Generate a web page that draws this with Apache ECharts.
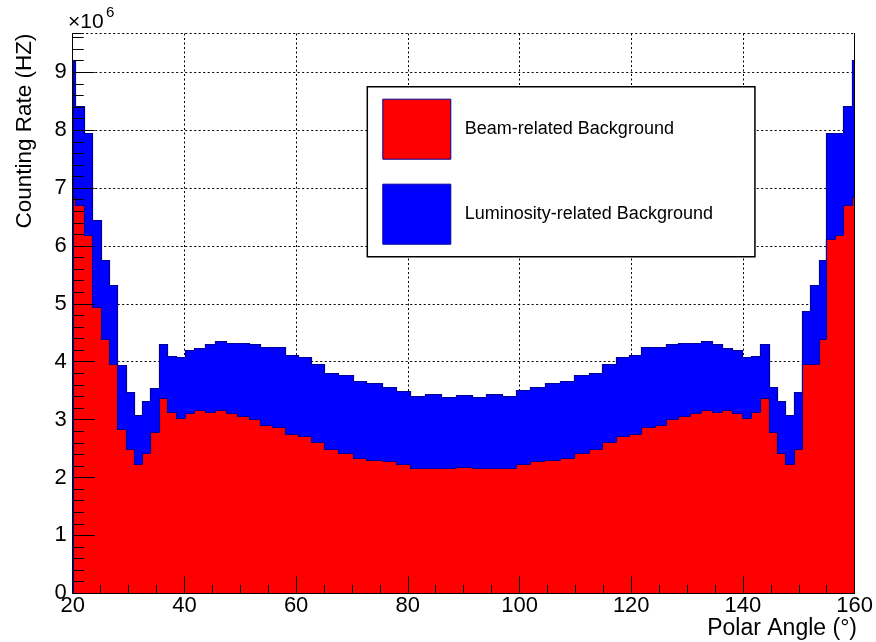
<!DOCTYPE html>
<html>
<head>
<meta charset="utf-8">
<script src="https://cdn.jsdelivr.net/npm/echarts@6/dist/echarts.min.js"></script>
<style>html,body{margin:0;padding:0;background:#fff}#c{width:876px;height:642px}</style>
</head>
<body>
<div id="c"></div>
<script>
// Bin edges in degrees (variable-width histogram bins)
const binEdges = [
  20, 20.41, 22.08, 23.5, 25.0, 26.5, 28.0, 29.48, 30.95, 32.43, 33.83, 35.42,
  36.92, 38.45, 40.05, 41.8, 43.6, 45.5, 47.5, 49.5, 51.6, 53.6, 55.65, 58.05,
  60.25, 62.65, 65.0, 67.55, 70.1, 72.55, 75.35, 77.95, 80.45, 83.1, 85.95, 88.55,
  91.45, 94.05, 96.85, 99.45, 101.95, 104.55, 107.3, 109.8, 112.35, 114.8, 117.3, 119.65,
  121.8, 124.25, 126.25, 128.35, 130.5, 132.5, 134.4, 136.25, 138.05, 139.9, 141.5, 143.1,
  144.65, 146.15, 147.6, 149.1, 150.5, 151.95, 153.55, 154.95, 156.45, 158.0, 159.58, 160
];
// Beam-related background counting rate (x10^6 Hz) per bin
const beamRate = [
  6.85, 6.70, 6.19, 4.95, 4.39, 3.96, 2.83, 2.49, 2.23, 2.43, 2.79, 3.38,
  3.13, 3.03, 3.12, 3.16, 3.13, 3.16, 3.11, 3.07, 3.01, 2.91, 2.88, 2.75,
  2.71, 2.62, 2.49, 2.43, 2.33, 2.31, 2.29, 2.23, 2.17, 2.17, 2.17, 2.19,
  2.17, 2.17, 2.17, 2.23, 2.29, 2.30, 2.33, 2.43, 2.49, 2.62, 2.71, 2.75,
  2.88, 2.91, 3.01, 3.07, 3.11, 3.16, 3.13, 3.16, 3.12, 3.03, 3.13, 3.38,
  2.79, 2.43, 2.23, 2.49, 3.96, 3.96, 4.39, 6.12, 6.19, 6.70, 6.85
];
// Luminosity-related background counting rate (x10^6 Hz) per bin (stacked on beam)
const lumiRate = [
  2.34, 1.72, 1.76, 1.49, 1.37, 1.37, 1.11, 0.99, 0.85, 0.90, 0.76, 0.93,
  0.97, 1.05, 1.08, 1.08, 1.17, 1.20, 1.22, 1.25, 1.30, 1.35, 1.38, 1.37,
  1.38, 1.34, 1.31, 1.34, 1.33, 1.32, 1.28, 1.27, 1.24, 1.27, 1.22, 1.24,
  1.22, 1.27, 1.24, 1.28, 1.28, 1.33, 1.33, 1.34, 1.31, 1.34, 1.38, 1.37,
  1.38, 1.35, 1.30, 1.26, 1.22, 1.20, 1.17, 1.08, 1.09, 1.05, 0.97, 0.93,
  0.77, 0.90, 0.85, 0.99, 0.91, 1.37, 1.36, 1.83, 1.76, 1.72, 2.36
];
const xTickLabels = [20, 40, 60, 80, 100, 120, 140, 160];
const yTickLabels = [0, 1, 2, 3, 4, 5, 6, 7, 8, 9];
const yAxisMax = 9.67;
const seriesNames = ['Beam-related Background', 'Luminosity-related Background'];

const FONT = 'Liberation Sans, Arial, Helvetica, sans-serif';
const OUTLINE = '#000099';
const totalRate = beamRate.map((b, i) => +(b + lumiRate[i]).toFixed(4));

function histData(vals) {
  return vals.map((v, i) => [binEdges[i], binEdges[i + 1], v]);
}
function makeRender(vals, fill) {
  return function (params, api) {
    const i = params.dataIndex;
    const lo = api.value(0), hi = api.value(1), v = api.value(2);
    const pLo = api.coord([lo, 0]);
    const pHi = api.coord([hi, v]);
    const prev = i > 0 ? vals[i - 1] : 0;
    const yPrev = api.coord([lo, prev])[1];
    const xl = Math.round(pLo[0]), xr = Math.round(pHi[0]);
    const yt = Math.round(pHi[1]), yb = Math.round(pLo[1]);
    const yp = Math.round(yPrev);
    const pts = [[xl + 0.5, yp], [xl + 0.5, yt + 0.5], [xr + 0.5, yt + 0.5]];
    if (i === vals.length - 1) pts.push([xr + 0.5, yb]);
    return {
      type: 'group',
      children: [
        { type: 'rect', shape: { x: xl, y: yt, width: xr - xl, height: yb - yt },
          style: { fill: fill, stroke: null } },
        { type: 'polyline', z2: 5, shape: { points: pts },
          style: { stroke: OUTLINE, lineWidth: 1.2, fill: null } }
      ]
    };
  };
}

const xMin = xTickLabels[0], xMax = xTickLabels[xTickLabels.length - 1];
const xInt = xTickLabels[1] - xTickLabels[0];
const yInt = yTickLabels[1] - yTickLabels[0];
const dotted = { color: '#000', width: 1, type: [2, 2.5] };

const chart = echarts.init(document.getElementById('c'));
chart.setOption({
  animation: false,
  backgroundColor: '#fff',
  grid: { left: 72.7, right: 21, top: 33.5, bottom: 48.7, containLabel: false },
  xAxis: [
    { type: 'value', min: xMin, max: xMax, interval: xInt, position: 'bottom', z: 0,
      axisLine: { show: false }, axisTick: { show: false }, axisLabel: { show: false },
      splitLine: { show: true, lineStyle: dotted } },
    { type: 'value', min: xMin, max: xMax, interval: xInt, position: 'bottom', z: 10,
      axisLine: { show: true, lineStyle: { color: '#000', width: 1 } },
      axisTick: { show: true, inside: true, length: 17, lineStyle: { color: '#000', width: 1 } },
      minorTick: { show: true, splitNumber: 4, length: 8.5, lineStyle: { color: '#000', width: 1 } },
      axisLabel: { show: true, margin: 2, fontSize: 22, fontFamily: FONT, color: '#000' },
      splitLine: { show: false } },
    { type: 'value', min: xMin, max: xMax, interval: xInt, position: 'top', z: 10,
      axisLine: { show: true, lineStyle: { color: '#000', width: 1 } },
      axisTick: { show: false }, axisLabel: { show: false }, splitLine: { show: false } }
  ],
  yAxis: [
    { type: 'value', min: 0, max: yAxisMax, interval: yInt, position: 'left', z: 0,
      axisLine: { show: false }, axisTick: { show: false }, axisLabel: { show: false },
      splitLine: { show: true, lineStyle: dotted } },
    { type: 'value', min: 0, max: yAxisMax, interval: yInt, position: 'left', z: 10,
      axisLine: { show: true, lineStyle: { color: '#000', width: 1 } },
      axisTick: { show: true, inside: true, length: 22, lineStyle: { color: '#000', width: 1 } },
      axisLabel: { show: true, margin: 6, fontSize: 22, fontFamily: FONT, color: '#000', showMaxLabel: false },
      splitLine: { show: false } },
    { type: 'value', min: 0, max: yAxisMax, interval: yInt / 5, position: 'left', z: 10,
      axisLine: { show: false },
      axisTick: { show: true, inside: true, length: 11, lineStyle: { color: '#000', width: 1 } },
      axisLabel: { show: false }, splitLine: { show: false } },
    { type: 'value', min: 0, max: yAxisMax, interval: yInt, position: 'right', z: 10,
      axisLine: { show: true, lineStyle: { color: '#000', width: 1 } },
      axisTick: { show: false }, axisLabel: { show: false }, splitLine: { show: false } }
  ],
  legend: {
    orient: 'vertical', left: 367.3, top: 86.7,
    padding: [12, 42, 12, 15], itemWidth: 68, itemHeight: 60, itemGap: 24,
    backgroundColor: '#fff', borderColor: '#000', borderWidth: 1.5, borderRadius: 0,
    selectedMode: false, z: 20,
    textStyle: { fontSize: 18, fontFamily: FONT, color: '#000', padding: [0, 0, 0, 9] },
    data: [
      { name: seriesNames[0], icon: 'rect', itemStyle: { color: '#ff0000', borderColor: OUTLINE, borderWidth: 1 } },
      { name: seriesNames[1], icon: 'rect', itemStyle: { color: '#0000ff', borderColor: OUTLINE, borderWidth: 1 } }
    ]
  },
  graphic: [
    { type: 'text', left: 68, top: 12, z: 30,
      style: { text: '×10', font: '21px ' + FONT, fill: '#000' } },
    { type: 'text', left: 106, top: 5, z: 30,
      style: { text: '6', font: '15px ' + FONT, fill: '#000' } },
    { type: 'text', x: 25, y: 131, rotation: Math.PI / 2, z: 30,
      style: { text: 'Counting Rate (HZ)', font: '22.5px ' + FONT, fill: '#000', align: 'center', verticalAlign: 'middle' } },
    { type: 'text', x: 857, y: 629, z: 30,
      style: { text: 'Polar Angle (°)', font: '23px ' + FONT, fill: '#000', align: 'right', verticalAlign: 'middle' } }
  ],
  series: [
    { name: seriesNames[1], type: 'custom', xAxisIndex: 0, yAxisIndex: 0, clip: true, z: 2,
      itemStyle: { color: '#0000ff' },
      encode: { x: [0, 1], y: 2 },
      data: histData(totalRate), renderItem: makeRender(totalRate, '#0000ff') },
    { name: seriesNames[0], type: 'custom', xAxisIndex: 0, yAxisIndex: 0, clip: true, z: 3,
      itemStyle: { color: '#ff0000' },
      encode: { x: [0, 1], y: 2 },
      data: histData(beamRate), renderItem: makeRender(beamRate, '#ff0000') }
  ]
});
</script>
</body>
</html>
